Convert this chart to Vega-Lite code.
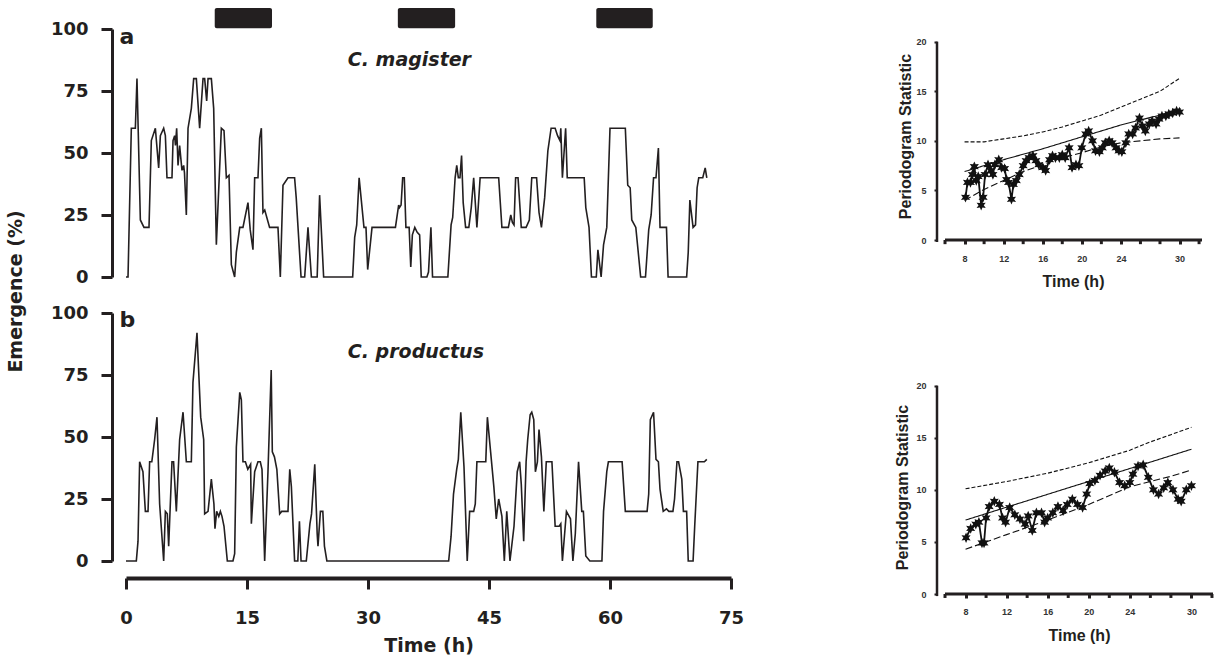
{
"$schema": "https://vega.github.io/schema/vega-lite/v6.json",
"padding": {"left": 6, "top": 7, "right": 0, "bottom": 0},
"config": {
  "view": {"stroke": null},
  "font": "DejaVu Sans",
  "axis": {"grid": false, "labelFontWeight": "bold", "titleFontWeight": "bold", "domainColor": "#231f20", "tickColor": "#231f20", "labelColor": "#231f20", "titleColor": "#231f20"}
},
"datasets": {
  "magister": [
    {"t":0,"v":0},{"t":0.25,"v":0},{"t":0.66,"v":60},{"t":1.16,"v":60},{"t":1.36,"v":80},{"t":1.78,"v":23},{"t":2.23,"v":20},{"t":2.85,"v":20},{"t":3.14,"v":55},{"t":3.64,"v":60},{"t":4.05,"v":44},{"t":4.26,"v":57},{"t":4.67,"v":60},{"t":4.88,"v":57},{"t":5.08,"v":40},{"t":5.7,"v":40},{"t":5.83,"v":55},{"t":6.03,"v":57},{"t":6.13,"v":53},{"t":6.28,"v":60},{"t":6.45,"v":45},{"t":6.65,"v":53},{"t":6.94,"v":43},{"t":7.15,"v":45},{"t":7.25,"v":42},{"t":7.48,"v":25},{"t":7.69,"v":60},{"t":8.1,"v":68},{"t":8.39,"v":80},{"t":8.72,"v":80},{"t":9.13,"v":60},{"t":9.55,"v":80},{"t":9.75,"v":80},{"t":10.0,"v":71},{"t":10.17,"v":80},{"t":10.58,"v":80},{"t":10.87,"v":68},{"t":11.2,"v":13},{"t":11.82,"v":60},{"t":12.15,"v":59},{"t":12.44,"v":40},{"t":12.77,"v":41},{"t":13.06,"v":5},{"t":13.47,"v":0},{"t":13.68,"v":10},{"t":14.1,"v":20},{"t":14.5,"v":20},{"t":15.12,"v":30},{"t":15.4,"v":19},{"t":15.74,"v":11},{"t":15.95,"v":40},{"t":16.36,"v":40},{"t":16.57,"v":56},{"t":16.78,"v":60},{"t":16.98,"v":26},{"t":17.2,"v":27},{"t":17.8,"v":20},{"t":18.84,"v":20},{"t":19.13,"v":0},{"t":19.46,"v":37},{"t":20.08,"v":40},{"t":20.9,"v":40},{"t":21.1,"v":32},{"t":21.7,"v":0},{"t":22.15,"v":0},{"t":22.56,"v":20},{"t":22.98,"v":0},{"t":23.7,"v":0},{"t":24.0,"v":33},{"t":24.5,"v":0},{"t":28.1,"v":0},{"t":28.35,"v":16},{"t":28.6,"v":21},{"t":28.9,"v":40},{"t":29.5,"v":20},{"t":29.75,"v":20},{"t":29.96,"v":3},{"t":30.5,"v":20},{"t":33.4,"v":20},{"t":33.8,"v":29},{"t":33.9,"v":28},{"t":34.1,"v":29},{"t":34.3,"v":40},{"t":34.5,"v":40},{"t":34.7,"v":20},{"t":35.1,"v":20},{"t":35.3,"v":4},{"t":35.5,"v":17},{"t":35.8,"v":20},{"t":36.1,"v":18},{"t":36.4,"v":17},{"t":36.6,"v":0},{"t":37.3,"v":0},{"t":37.5,"v":2},{"t":37.8,"v":20},{"t":38.0,"v":0},{"t":39.9,"v":0},{"t":40.3,"v":21},{"t":40.5,"v":24},{"t":40.8,"v":40},{"t":41.0,"v":45},{"t":41.2,"v":40},{"t":41.4,"v":40},{"t":41.6,"v":49},{"t":41.8,"v":30},{"t":42.1,"v":20},{"t":42.5,"v":20},{"t":42.8,"v":28},{"t":43.1,"v":40},{"t":43.5,"v":20},{"t":43.9,"v":40},{"t":46.2,"v":40},{"t":46.6,"v":20},{"t":47.4,"v":20},{"t":47.7,"v":25},{"t":47.9,"v":22},{"t":48.1,"v":21},{"t":48.3,"v":40},{"t":48.6,"v":40},{"t":49.0,"v":20},{"t":49.6,"v":20},{"t":50.0,"v":23},{"t":50.3,"v":40},{"t":50.9,"v":40},{"t":51.2,"v":26},{"t":51.5,"v":20},{"t":51.9,"v":32},{"t":52.3,"v":51},{"t":52.7,"v":60},{"t":53.2,"v":60},{"t":53.5,"v":57},{"t":53.8,"v":55},{"t":53.9,"v":60},{"t":54.1,"v":40},{"t":54.5,"v":60},{"t":54.7,"v":40},{"t":56.8,"v":40},{"t":57.0,"v":28},{"t":57.4,"v":20},{"t":57.7,"v":0},{"t":58.3,"v":0},{"t":58.5,"v":11},{"t":58.9,"v":0},{"t":59.2,"v":13},{"t":59.6,"v":20},{"t":60.0,"v":60},{"t":61.9,"v":60},{"t":62.2,"v":37},{"t":62.5,"v":36},{"t":62.7,"v":23},{"t":63.2,"v":20},{"t":63.8,"v":0},{"t":64.4,"v":0},{"t":64.8,"v":19},{"t":65.1,"v":25},{"t":65.4,"v":40},{"t":65.7,"v":40},{"t":66.0,"v":52},{"t":66.2,"v":20},{"t":67.0,"v":20},{"t":67.2,"v":0},{"t":69.5,"v":0},{"t":69.7,"v":10},{"t":69.9,"v":31},{"t":70.3,"v":20},{"t":70.6,"v":21},{"t":70.8,"v":36},{"t":71.0,"v":40},{"t":71.5,"v":40},{"t":71.8,"v":44},{"t":72.0,"v":40}
  ],
  "productus": [
    {"t":0,"v":0},{"t":1.28,"v":0},{"t":1.49,"v":8},{"t":1.69,"v":40},{"t":2.1,"v":36},{"t":2.4,"v":20},{"t":2.73,"v":20},{"t":2.93,"v":40},{"t":3.2,"v":40},{"t":3.55,"v":49},{"t":3.84,"v":58},{"t":4.17,"v":23},{"t":4.67,"v":0},{"t":4.88,"v":20},{"t":5.12,"v":19},{"t":5.29,"v":6},{"t":5.7,"v":40},{"t":5.9,"v":40},{"t":6.24,"v":20},{"t":6.65,"v":49},{"t":7.07,"v":60},{"t":7.48,"v":40},{"t":8.1,"v":40},{"t":8.3,"v":72},{"t":8.8,"v":92},{"t":9.26,"v":58},{"t":9.63,"v":49},{"t":9.75,"v":19},{"t":10.17,"v":20},{"t":10.58,"v":33},{"t":10.9,"v":23},{"t":11.03,"v":13},{"t":11.24,"v":20},{"t":11.5,"v":18},{"t":11.7,"v":20},{"t":11.9,"v":18},{"t":12.15,"v":14},{"t":12.56,"v":0},{"t":13.26,"v":0},{"t":13.47,"v":3},{"t":13.68,"v":46},{"t":14.1,"v":68},{"t":14.3,"v":65},{"t":14.5,"v":40},{"t":14.8,"v":40},{"t":15.1,"v":37},{"t":15.45,"v":39},{"t":15.54,"v":15},{"t":15.95,"v":36},{"t":16.36,"v":40},{"t":16.65,"v":40},{"t":16.86,"v":37},{"t":17.19,"v":0},{"t":17.6,"v":36},{"t":18.0,"v":77},{"t":18.14,"v":44},{"t":18.4,"v":42},{"t":18.7,"v":37},{"t":19.05,"v":19},{"t":19.3,"v":20},{"t":20.08,"v":20},{"t":20.3,"v":37},{"t":20.5,"v":30},{"t":20.9,"v":0},{"t":21.3,"v":0},{"t":21.5,"v":16},{"t":21.7,"v":0},{"t":22.35,"v":0},{"t":22.8,"v":15},{"t":23.0,"v":19},{"t":23.4,"v":39},{"t":23.7,"v":11},{"t":23.8,"v":6},{"t":24.1,"v":20},{"t":24.4,"v":20},{"t":24.6,"v":6},{"t":24.9,"v":0},{"t":40.0,"v":0},{"t":40.3,"v":10},{"t":40.6,"v":27},{"t":41.0,"v":37},{"t":41.2,"v":41},{"t":41.5,"v":60},{"t":41.9,"v":38},{"t":42.3,"v":0},{"t":42.6,"v":20},{"t":43.1,"v":20},{"t":43.3,"v":23},{"t":43.5,"v":40},{"t":44.6,"v":40},{"t":44.8,"v":58},{"t":45.2,"v":44},{"t":45.6,"v":30},{"t":45.9,"v":17},{"t":46.2,"v":25},{"t":46.6,"v":18},{"t":46.9,"v":0},{"t":47.2,"v":20},{"t":47.6,"v":0},{"t":48.1,"v":14},{"t":48.5,"v":36},{"t":48.8,"v":40},{"t":49.0,"v":31},{"t":49.3,"v":8},{"t":49.6,"v":40},{"t":49.8,"v":49},{"t":50.1,"v":59},{"t":50.3,"v":60},{"t":50.55,"v":57},{"t":50.75,"v":36},{"t":51.0,"v":40},{"t":51.2,"v":53},{"t":51.5,"v":42},{"t":51.8,"v":20},{"t":52.1,"v":40},{"t":52.8,"v":40},{"t":53.2,"v":14},{"t":53.7,"v":14},{"t":53.9,"v":15},{"t":54.1,"v":0},{"t":54.6,"v":20},{"t":55.1,"v":17},{"t":55.4,"v":0},{"t":55.7,"v":11},{"t":56.1,"v":40},{"t":56.5,"v":20},{"t":56.7,"v":20},{"t":57.0,"v":2},{"t":57.5,"v":0},{"t":59.0,"v":0},{"t":59.2,"v":20},{"t":59.6,"v":36},{"t":59.8,"v":40},{"t":61.5,"v":40},{"t":61.9,"v":20},{"t":64.6,"v":20},{"t":64.8,"v":27},{"t":65.0,"v":57},{"t":65.4,"v":60},{"t":65.7,"v":41},{"t":66.0,"v":40},{"t":66.2,"v":29},{"t":66.6,"v":20},{"t":67.0,"v":21},{"t":67.3,"v":20},{"t":67.8,"v":20},{"t":68.0,"v":25},{"t":68.3,"v":40},{"t":68.5,"v":40},{"t":68.9,"v":33},{"t":69.1,"v":20},{"t":69.5,"v":20},{"t":69.7,"v":0},{"t":70.3,"v":0},{"t":70.5,"v":14},{"t":70.9,"v":40},{"t":71.7,"v":40},{"t":72.0,"v":41}
  ],
  "darkBars": [{"start":11.0,"end":18.1},{"start":33.7,"end":40.8},{"start":58.3,"end":65.3}],
  "labelsA": [{"letter":"a","t":-0.8,"v":94,"species":"C. magister","ts":27.5,"vs":85}],
  "labelsB": [{"letter":"b","t":-0.8,"v":94.3,"species":"C. productus","ts":27.5,"vs":82}],
  "pgA": [
    {"h":8.1,"v":4.3},{"h":8.3,"v":5.8},{"h":8.6,"v":5.8},{"h":8.8,"v":6.6},{"h":9.0,"v":7.4},{"h":9.2,"v":6.0},{"h":9.4,"v":6.4},{"h":9.7,"v":3.5},{"h":9.9,"v":4.3},{"h":10.1,"v":6.6},{"h":10.4,"v":7.6},{"h":10.7,"v":7.0},{"h":10.9,"v":6.6},{"h":11.1,"v":7.6},{"h":11.5,"v":8.1},{"h":11.8,"v":7.3},{"h":12.1,"v":7.2},{"h":12.3,"v":6.1},{"h":12.5,"v":5.8},{"h":12.8,"v":4.1},{"h":13.0,"v":5.6},{"h":13.3,"v":6.0},{"h":13.6,"v":6.6},{"h":14.0,"v":7.5},{"h":14.3,"v":8.0},{"h":14.6,"v":8.3},{"h":15.0,"v":8.5},{"h":15.3,"v":8.0},{"h":15.6,"v":7.6},{"h":16.0,"v":7.3},{"h":16.3,"v":7.0},{"h":16.7,"v":8.1},{"h":17.0,"v":8.5},{"h":17.3,"v":8.3},{"h":17.7,"v":8.3},{"h":18.0,"v":8.6},{"h":18.3,"v":8.3},{"h":18.7,"v":9.3},{"h":19.0,"v":7.3},{"h":19.4,"v":7.6},{"h":19.7,"v":7.5},{"h":20.0,"v":9.3},{"h":20.4,"v":10.7},{"h":20.7,"v":11.0},{"h":21.1,"v":10.0},{"h":21.4,"v":9.0},{"h":21.8,"v":8.9},{"h":22.1,"v":9.3},{"h":22.4,"v":9.8},{"h":22.8,"v":10.0},{"h":23.1,"v":9.8},{"h":23.5,"v":9.3},{"h":23.8,"v":9.0},{"h":24.1,"v":8.9},{"h":24.5,"v":9.8},{"h":24.8,"v":10.7},{"h":25.2,"v":10.7},{"h":25.5,"v":11.3},{"h":25.9,"v":12.3},{"h":26.2,"v":11.5},{"h":26.5,"v":11.0},{"h":26.9,"v":11.7},{"h":27.2,"v":12.0},{"h":27.6,"v":11.7},{"h":27.9,"v":12.2},{"h":28.2,"v":12.5},{"h":28.6,"v":12.5},{"h":28.9,"v":12.7},{"h":29.3,"v":12.8},{"h":29.7,"v":13.0},{"h":30.0,"v":12.9}
  ],
  "pgALines": [
    {"h":8,"v":6.9,"s":"solid"},{"h":12,"v":8.1,"s":"solid"},{"h":16,"v":9.2,"s":"solid"},{"h":20,"v":10.4,"s":"solid"},{"h":24,"v":11.6,"s":"solid"},{"h":28,"v":12.6,"s":"solid"},{"h":30,"v":13.2,"s":"solid"},
    {"h":8,"v":9.9,"s":"upper"},{"h":10,"v":9.9,"s":"upper"},{"h":12,"v":10.2,"s":"upper"},{"h":14,"v":10.5,"s":"upper"},{"h":16,"v":10.9,"s":"upper"},{"h":18,"v":11.4,"s":"upper"},{"h":20,"v":12.0,"s":"upper"},{"h":22,"v":12.6,"s":"upper"},{"h":24,"v":13.4,"s":"upper"},{"h":26,"v":14.2,"s":"upper"},{"h":28,"v":15.0,"s":"upper"},{"h":30,"v":16.3,"s":"upper"},
    {"h":8,"v":4.0,"s":"lower"},{"h":10,"v":5.1,"s":"lower"},{"h":12,"v":6.0,"s":"lower"},{"h":14,"v":6.9,"s":"lower"},{"h":16,"v":7.6,"s":"lower"},{"h":18,"v":8.3,"s":"lower"},{"h":20,"v":8.8,"s":"lower"},{"h":22,"v":9.4,"s":"lower"},{"h":24,"v":9.8,"s":"lower"},{"h":26,"v":10.0,"s":"lower"},{"h":28,"v":10.2,"s":"lower"},{"h":30,"v":10.3,"s":"lower"}
  ],
  "pgB": [
    {"h":8.05,"v":5.4},{"h":8.5,"v":6.3},{"h":9.0,"v":6.7},{"h":9.3,"v":6.9},{"h":9.6,"v":4.9},{"h":9.8,"v":4.9},{"h":10.0,"v":7.3},{"h":10.3,"v":8.4},{"h":10.8,"v":8.9},{"h":11.3,"v":8.6},{"h":11.6,"v":7.3},{"h":11.9,"v":6.9},{"h":12.3,"v":8.3},{"h":12.8,"v":7.6},{"h":13.3,"v":7.2},{"h":13.8,"v":6.7},{"h":14.1,"v":7.5},{"h":14.5,"v":6.1},{"h":14.9,"v":7.8},{"h":15.4,"v":7.8},{"h":15.7,"v":6.9},{"h":16.0,"v":7.3},{"h":16.5,"v":7.8},{"h":17.0,"v":8.4},{"h":17.5,"v":8.0},{"h":17.9,"v":8.6},{"h":18.4,"v":9.1},{"h":18.9,"v":8.6},{"h":19.4,"v":8.3},{"h":19.8,"v":9.6},{"h":20.1,"v":10.6},{"h":20.6,"v":10.9},{"h":21.1,"v":11.4},{"h":21.6,"v":11.8},{"h":22.0,"v":12.1},{"h":22.5,"v":11.7},{"h":23.0,"v":10.7},{"h":23.5,"v":10.4},{"h":24.0,"v":10.7},{"h":24.3,"v":11.5},{"h":24.8,"v":12.3},{"h":25.3,"v":12.4},{"h":25.8,"v":11.2},{"h":26.3,"v":10.0},{"h":26.8,"v":9.6},{"h":27.3,"v":10.2},{"h":27.7,"v":10.7},{"h":28.2,"v":10.0},{"h":28.7,"v":9.1},{"h":29.0,"v":8.9},{"h":29.5,"v":10.0},{"h":30.0,"v":10.4}
  ],
  "pgBLines": [
    {"h":8,"v":7.1,"s":"solid"},{"h":19,"v":10.5,"s":"solid"},{"h":30,"v":13.9,"s":"solid"},
    {"h":8,"v":10.1,"s":"upper"},{"h":12,"v":10.8,"s":"upper"},{"h":16,"v":11.6,"s":"upper"},{"h":20,"v":12.6,"s":"upper"},{"h":24,"v":13.8,"s":"upper"},{"h":26,"v":14.6,"s":"upper"},{"h":28,"v":15.3,"s":"upper"},{"h":30,"v":16.0,"s":"upper"},
    {"h":8,"v":4.3,"s":"lower"},{"h":12,"v":5.7,"s":"lower"},{"h":16,"v":7.1,"s":"lower"},{"h":20,"v":8.6,"s":"lower"},{"h":24,"v":10.3,"s":"lower"},{"h":28,"v":11.3,"s":"lower"},{"h":30,"v":11.9,"s":"lower"}
  ],
  "minorTicks": [{"h":6},{"h":10},{"h":14},{"h":18},{"h":22},{"h":26},{"h":28},{"h":32}],
  "xAxisLineA": [{"h0":6,"h1":32.3}],
  "xAxisLineB": [{"h0":6,"h1":32.1}]
},
"columns": 2,
"align": "each",
"bounds": "flush",
"spacing": {"row": 36, "column": 206},
"resolve": {"scale": {"x": "independent", "y": "independent"}},
"concat": [
  {
    "width": 605, "height": 248,
    "layer": [
      {
        "data": {"name": "magister"},
        "mark": {"type": "line", "color": "#231f20", "strokeWidth": 1.6},
        "encoding": {
          "x": {"field": "t", "type": "quantitative", "scale": {"domain": [0, 75], "nice": false}, "axis": null},
          "y": {"field": "v", "type": "quantitative", "scale": {"domain": [0, 100], "nice": false},
                "axis": {"values": [0, 25, 50, 75, 100], "offset": 14, "domainWidth": 3, "tickWidth": 3, "tickSize": 11, "labelPadding": 13, "labelFontSize": 18,
                         "title": "Emergence (%)", "titleFontSize": 19, "titleX": -97, "titleY": 262, "titleBaseline": "middle"}}
        }
      },
      {
        "data": {"name": "darkBars"},
        "mark": {"type": "rect", "color": "#231f20", "cornerRadius": 2},
        "encoding": {
          "x": {"field": "start", "type": "quantitative"},
          "x2": {"field": "end"},
          "y": {"datum": 100.3},
          "y2": {"datum": 108.5}
        }
      },
      {
        "data": {"name": "labelsA"},
        "mark": {"type": "text", "fontSize": 22, "fontWeight": "bold", "align": "left", "baseline": "alphabetic", "color": "#231f20"},
        "encoding": {"x": {"field": "t", "type": "quantitative"}, "y": {"field": "v", "type": "quantitative"}, "text": {"field": "letter"}}
      },
      {
        "data": {"name": "labelsA"},
        "mark": {"type": "text", "fontSize": 19, "fontWeight": "bold", "fontStyle": "italic", "align": "left", "baseline": "alphabetic", "color": "#231f20"},
        "encoding": {"x": {"field": "ts", "type": "quantitative"}, "y": {"field": "vs", "type": "quantitative"}, "text": {"field": "species"}}
      }
    ]
  },
  {
    "width": 265, "height": 211,
    "layer": [
      {
        "data": {"name": "pgALines"},
        "mark": {"type": "line", "color": "#111111", "strokeWidth": 1.1},
        "encoding": {
          "x": {"field": "h", "type": "quantitative", "scale": {"domain": [5.18, 32.3], "nice": false},
                "axis": {"values": [8, 12, 16, 20, 24, 30], "domain": false, "tickWidth": 3, "tickSize": 4, "labelPadding": 10, "labelFontSize": 9, "labelFont": "Liberation Sans", "labelColor": "#333333",
                         "title": "Time (h)", "titleFont": "Liberation Sans", "titleFontSize": 16, "titleX": 136, "titleY": 41, "titleBaseline": "middle"}},
          "y": {"field": "v", "type": "quantitative", "scale": {"domain": [0, 21.28], "nice": false},
                "axis": {"values": [0, 5, 10, 15, 20], "domain": false, "tickWidth": 2, "tickSize": 3, "labelPadding": 8, "labelFontSize": 9, "labelFont": "Liberation Sans", "labelColor": "#333333",
                         "title": "Periodogram Statistic", "titleFont": "Liberation Sans", "titleFontSize": 16, "titleX": -32, "titleY": 107, "titleBaseline": "middle"}},
          "strokeDash": {"field": "s", "type": "nominal", "scale": {"domain": ["solid", "upper", "lower"], "range": [[1, 0], [4, 2], [7, 3]]}, "legend": null}
        }
      },
      {
        "data": {"name": "xAxisLineA"},
        "mark": {"type": "rule", "color": "#231f20", "strokeWidth": 3},
        "encoding": {"x": {"field": "h0", "type": "quantitative"}, "x2": {"field": "h1"}, "y": {"datum": 0}}
      },
      {
        "data": {"name": "minorTicks"},
        "mark": {"type": "rule", "color": "#231f20", "strokeWidth": 3},
        "encoding": {"x": {"field": "h", "type": "quantitative"}, "y": {"datum": 0}, "y2": {"datum": -0.42}}
      },
      {
        "data": {"name": "xAxisLineA"},
        "mark": {"type": "rule", "color": "#231f20", "strokeWidth": 2.5},
        "encoding": {"x": {"datum": 5.18}, "y": {"datum": -0.2}, "y2": {"datum": 20}}
      },
      {
        "data": {"name": "pgA"},
        "mark": {"type": "line", "color": "#111111", "strokeWidth": 1.8, "point": {"shape": "M0,-1L0.25,-0.43L0.87,-0.5L0.5,0L0.87,0.5L0.25,0.43L0,1L-0.25,0.43L-0.87,0.5L-0.5,0L-0.87,-0.5L-0.25,-0.43Z", "size": 110, "filled": true, "color": "#111111"}},
        "encoding": {"x": {"field": "h", "type": "quantitative"}, "y": {"field": "v", "type": "quantitative"}}
      }
    ]
  },
  {
    "width": 605, "height": 248,
    "layer": [
      {
        "data": {"name": "productus"},
        "mark": {"type": "line", "color": "#231f20", "strokeWidth": 1.6},
        "encoding": {
          "x": {"field": "t", "type": "quantitative", "scale": {"domain": [0, 75], "nice": false},
                "axis": {"values": [0, 15, 30, 45, 60, 75], "offset": 17, "domainWidth": 4, "tickWidth": 3, "tickSize": 11, "labelPadding": 20, "labelFontSize": 18, "labelFlush": false,
                         "title": "Time (h)", "titleFontSize": 19, "titleY": 67, "titleBaseline": "middle"}},
          "y": {"field": "v", "type": "quantitative", "scale": {"domain": [0, 100], "nice": false},
                "axis": {"values": [0, 25, 50, 75, 100], "offset": 14, "domainWidth": 3, "tickWidth": 3, "tickSize": 11, "labelPadding": 13, "labelFontSize": 18, "title": null}}
        }
      },
      {
        "data": {"name": "labelsB"},
        "mark": {"type": "text", "fontSize": 22, "fontWeight": "bold", "align": "left", "baseline": "alphabetic", "color": "#231f20"},
        "encoding": {"x": {"field": "t", "type": "quantitative"}, "y": {"field": "v", "type": "quantitative"}, "text": {"field": "letter"}}
      },
      {
        "data": {"name": "labelsB"},
        "mark": {"type": "text", "fontSize": 19, "fontWeight": "bold", "fontStyle": "italic", "align": "left", "baseline": "alphabetic", "color": "#231f20"},
        "encoding": {"x": {"field": "ts", "type": "quantitative"}, "y": {"field": "vs", "type": "quantitative"}, "text": {"field": "species"}}
      }
    ]
  },
  {
    "width": 276, "height": 281,
    "layer": [
      {
        "data": {"name": "pgBLines"},
        "mark": {"type": "line", "color": "#111111", "strokeWidth": 1.1},
        "encoding": {
          "x": {"field": "h", "type": "quantitative", "scale": {"domain": [5.22, 32.1], "nice": false},
                "axis": {"values": [8, 12, 16, 20, 24, 30], "domain": false, "tickWidth": 3, "tickSize": 4, "labelPadding": 9.5, "labelFontSize": 9, "labelFont": "Liberation Sans", "labelColor": "#333333",
                         "title": "Time (h)", "titleFont": "Liberation Sans", "titleFontSize": 16, "titleX": 142, "titleY": 41, "titleBaseline": "middle"}},
          "y": {"field": "v", "type": "quantitative", "scale": {"domain": [0, 26.98], "nice": false},
                "axis": {"values": [0, 5, 10, 15, 20], "domain": false, "tickWidth": 2, "tickSize": 3, "labelPadding": 8, "labelFontSize": 9, "labelFont": "Liberation Sans", "labelColor": "#333333",
                         "title": "Periodogram Statistic", "titleFont": "Liberation Sans", "titleFontSize": 16, "titleX": -35, "titleY": 174, "titleBaseline": "middle"}},
          "strokeDash": {"field": "s", "type": "nominal", "scale": {"domain": ["solid", "upper", "lower"], "range": [[1, 0], [4, 2], [7, 3]]}, "legend": null}
        }
      },
      {
        "data": {"name": "xAxisLineB"},
        "mark": {"type": "rule", "color": "#231f20", "strokeWidth": 3},
        "encoding": {"x": {"field": "h0", "type": "quantitative"}, "x2": {"field": "h1"}, "y": {"datum": 0}}
      },
      {
        "data": {"name": "minorTicks"},
        "mark": {"type": "rule", "color": "#231f20", "strokeWidth": 3},
        "encoding": {"x": {"field": "h", "type": "quantitative"}, "y": {"datum": 0}, "y2": {"datum": -0.38}}
      },
      {
        "data": {"name": "xAxisLineB"},
        "mark": {"type": "rule", "color": "#231f20", "strokeWidth": 2.5},
        "encoding": {"x": {"datum": 5.22}, "y": {"datum": -0.2}, "y2": {"datum": 20}}
      },
      {
        "data": {"name": "pgB"},
        "mark": {"type": "line", "color": "#111111", "strokeWidth": 1.8, "point": {"shape": "M0,-1L0.25,-0.43L0.87,-0.5L0.5,0L0.87,0.5L0.25,0.43L0,1L-0.25,0.43L-0.87,0.5L-0.5,0L-0.87,-0.5L-0.25,-0.43Z", "size": 110, "filled": true, "color": "#111111"}},
        "encoding": {"x": {"field": "h", "type": "quantitative"}, "y": {"field": "v", "type": "quantitative"}}
      }
    ]
  }
]
}
